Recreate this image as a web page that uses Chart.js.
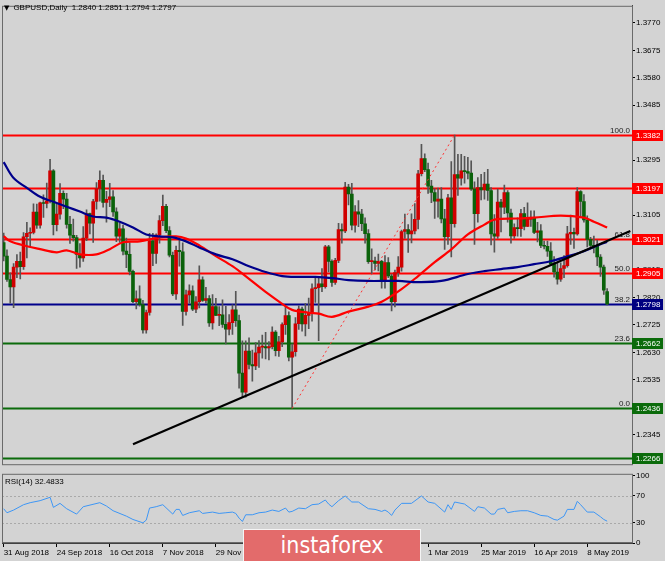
<!DOCTYPE html>
<html>
<head>
<meta charset="utf-8">
<script src="https://cdn.jsdelivr.net/npm/chart.js@4"></script>
<style>
  html, body { margin: 0; padding: 0; background: #d3d3d3; }
  #wrap { position: relative; width: 665px; height: 561px; overflow: hidden; background: #d3d3d3; font-family: "Liberation Sans", Arial, sans-serif; }
  #main { position: absolute; left: 0; top: 0; }
  #rsi { position: absolute; left: 0; top: 470px; }
  .title { position: absolute; left: 4px; top: 3px; font-size: 8px; color: #000; white-space: pre; }
  .title .tri { font-family: "DejaVu Sans"; font-size: 7px; margin-right: 4px; }
  .rsiTitle { position: absolute; left: 5px; top: 477px; font-size: 8px; color: #000; white-space: pre; }
  .brand { position: absolute; left: 243px; top: 529px; width: 178px; height: 32px; box-sizing: border-box;
           background: #e36b6b; border: 1px solid #f4f4f4; border-bottom: none; color: #fff;
           font-family: "Liberation Sans Narrow", "DejaVu Sans Condensed", sans-serif; font-size: 23px;
           text-align: center; line-height: 30px; }
</style>
</head>
<body>
<div id="wrap">
  <canvas id="main" width="665" height="470"></canvas>
  <canvas id="rsi" width="665" height="91"></canvas>
  <div class="title" id="title"></div>
  <div class="rsiTitle" id="rsiTitle"></div>
  <div class="brand">instaforex</div>
</div>
<script>
// GBPUSD daily, 31 Aug 2018 .. 16 May 2019
const opens = [
  1.3010, 1.2963, 1.2882, 1.2856, 1.2925, 1.2945, 1.2926, 1.3030, 1.3042, 1.3045,
  1.3115, 1.3070, 1.3147, 1.3145, 1.3154, 1.3258, 1.3072, 1.3108, 1.3180, 1.3160,
  1.3073, 1.3035, 1.3027, 1.2969, 1.2957, 1.3025, 1.3110, 1.3077, 1.3152, 1.3197,
  1.3225, 1.3149, 1.3159, 1.3168, 1.3116, 1.3032, 1.3057, 1.2980, 1.2969, 1.2910,
  1.2805, 1.2815, 1.2795, 1.2708, 1.2768, 1.3016, 1.2972, 1.3036, 1.3086, 1.3135,
  1.3051, 1.2966, 1.2832, 1.2983, 1.2978, 1.2772, 1.2829, 1.2843, 1.2779, 1.2805,
  1.2881, 1.2810, 1.2816, 1.2732, 1.2788, 1.2758, 1.2760, 1.2727, 1.2710, 1.2733,
  1.2777, 1.2740, 1.2558, 1.2492, 1.2634, 1.2588, 1.2583, 1.2628, 1.2648, 1.2650,
  1.2645, 1.2650, 1.2700, 1.2636, 1.2666, 1.2726, 1.2757, 1.2613, 1.2632, 1.2729,
  1.2780, 1.2728, 1.2758, 1.2766, 1.2850, 1.2854, 1.2867, 1.2857, 1.2995, 1.2945,
  1.2872, 1.2948, 1.3055, 1.3050, 1.3202, 1.3178, 1.3070, 1.3116, 1.3108, 1.3075,
  1.3041, 1.2944, 1.2946, 1.2938, 1.2945, 1.2877, 1.2941, 1.2894, 1.2805, 1.2906,
  1.2925, 1.3048, 1.3055, 1.3040, 1.3050, 1.3090, 1.3248, 1.3300, 1.3262, 1.3205,
  1.3183, 1.3153, 1.3160, 1.3092, 1.3030, 1.3165, 1.3075, 1.3245, 1.3233, 1.3258,
  1.3255, 1.3250, 1.3195, 1.3110, 1.3200, 1.3192, 1.3212, 1.3190, 1.3040, 1.3032,
  1.3150, 1.3132, 1.3183, 1.3112, 1.3033, 1.3062, 1.3058, 1.3110, 1.3066, 1.3090,
  1.3095, 1.3045, 1.3050, 1.3000, 1.2997, 1.2980, 1.2935, 1.2908, 1.2883, 1.2920,
  1.2930, 1.3040, 1.3045, 1.3040, 1.3186, 1.3152, 1.3088, 1.3021, 1.3000, 1.2997,
  1.2960, 1.2925, 1.2840
];
const highs = [
  1.3043, 1.2985, 1.2905, 1.2937, 1.2968, 1.2977, 1.3044, 1.3080, 1.3061, 1.3144,
  1.3143, 1.3150, 1.3175, 1.3216, 1.3298, 1.3262, 1.3143, 1.3214, 1.3189, 1.3180,
  1.3101, 1.3091, 1.3035, 1.3006, 1.3065, 1.3123, 1.3112, 1.3159, 1.3217, 1.3258,
  1.3243, 1.3187, 1.3215, 1.3190, 1.3130, 1.3078, 1.3070, 1.3025, 1.3010, 1.2915,
  1.2843, 1.2860, 1.2810, 1.2776, 1.3042, 1.3042, 1.3040, 1.3103, 1.3174, 1.3142,
  1.3065, 1.2977, 1.2998, 1.3027, 1.3009, 1.2845, 1.2864, 1.2860, 1.2823, 1.2929,
  1.2891, 1.2855, 1.2826, 1.2830, 1.2817, 1.2788, 1.2812, 1.2789, 1.2761, 1.2794,
  1.2841, 1.2759, 1.2670, 1.2670, 1.2680, 1.2638, 1.2664, 1.2671, 1.2690, 1.2699,
  1.2667, 1.2718, 1.2705, 1.2685, 1.2732, 1.2790, 1.2770, 1.2659, 1.2750, 1.2791,
  1.2787, 1.2800, 1.2818, 1.2867, 1.2890, 1.2893, 1.2920, 1.3000, 1.3000, 1.2950,
  1.2955, 1.3076, 1.3075, 1.3218, 1.3211, 1.3215, 1.3138, 1.3155, 1.3125, 1.3095,
  1.3055, 1.2988, 1.2960, 1.2970, 1.2948, 1.2965, 1.2958, 1.2901, 1.2915, 1.2961,
  1.3053, 1.3108, 1.3072, 1.3109, 1.3145, 1.3260, 1.3350, 1.3317, 1.3285, 1.3225,
  1.3197, 1.3198, 1.3200, 1.3125, 1.3177, 1.3290, 1.3382, 1.3315, 1.3315, 1.3308,
  1.3305, 1.3293, 1.3220, 1.3235, 1.3246, 1.3253, 1.3263, 1.3200, 1.3107, 1.3195,
  1.3159, 1.3209, 1.3190, 1.3126, 1.3075, 1.3095, 1.3125, 1.3132, 1.3147, 1.3120,
  1.3120, 1.3080, 1.3072, 1.3015, 1.3015, 1.3010, 1.2961, 1.2940, 1.2940, 1.2965,
  1.3066, 1.3105, 1.3060, 1.3200, 1.3190, 1.3176, 1.3102, 1.3028, 1.3032, 1.3018,
  1.2968, 1.2932, 1.2851
];
const lows = [
  1.2946, 1.2875, 1.2800, 1.2785, 1.2888, 1.2884, 1.2917, 1.2957, 1.2996, 1.3040,
  1.3059, 1.3060, 1.3097, 1.3130, 1.3147, 1.3036, 1.3050, 1.3091, 1.3127, 1.3060,
  1.3007, 1.3015, 1.2920, 1.2925, 1.2945, 1.3016, 1.3040, 1.3010, 1.3125, 1.3153,
  1.3132, 1.3080, 1.3134, 1.3100, 1.3013, 1.3010, 1.2967, 1.2923, 1.2898, 1.2802,
  1.2780, 1.2790, 1.2696, 1.2696, 1.2759, 1.2930, 1.2938, 1.3008, 1.3068, 1.3044,
  1.2960, 1.2826, 1.2813, 1.2928, 1.2723, 1.2759, 1.2800, 1.2774, 1.2767, 1.2784,
  1.2806, 1.2800, 1.2720, 1.2710, 1.2757, 1.2722, 1.2716, 1.2659, 1.2690, 1.2692,
  1.2720, 1.2506, 1.2477, 1.2475, 1.2573, 1.2530, 1.2570, 1.2578, 1.2610, 1.2607,
  1.2604, 1.2642, 1.2618, 1.2616, 1.2650, 1.2692, 1.2600, 1.2438, 1.2617, 1.2709,
  1.2703, 1.2687, 1.2712, 1.2738, 1.2803, 1.2670, 1.2840, 1.2852, 1.2908, 1.2858,
  1.2865, 1.2940, 1.3008, 1.3044, 1.3140, 1.3054, 1.3046, 1.3065, 1.3051, 1.3008,
  1.2938, 1.2902, 1.2915, 1.2912, 1.2852, 1.2852, 1.2888, 1.2773, 1.2787, 1.2893,
  1.2911, 1.3024, 1.2976, 1.3009, 1.3040, 1.3057, 1.3240, 1.3255, 1.3180, 1.3148,
  1.3093, 1.3098, 1.3078, 1.2986, 1.3003, 1.2960, 1.3063, 1.3173, 1.3208, 1.3215,
  1.3230, 1.3190, 1.3003, 1.3080, 1.3157, 1.3160, 1.3156, 1.3002, 1.2977, 1.3024,
  1.3047, 1.3110, 1.3080, 1.3008, 1.3024, 1.3032, 1.3031, 1.3054, 1.3065, 1.3066,
  1.3041, 1.3012, 1.2992, 1.2988, 1.2962, 1.2932, 1.2890, 1.2866, 1.2875, 1.2888,
  1.2925, 1.3003, 1.2990, 1.3035, 1.3100, 1.3080, 1.2995, 1.2994, 1.2974, 1.2930,
  1.2893, 1.2830, 1.2794
];
const closes = [
  1.2963, 1.2882, 1.2856, 1.2925, 1.2945, 1.2926, 1.3030, 1.3042, 1.3045, 1.3115,
  1.3070, 1.3147, 1.3145, 1.3154, 1.3258, 1.3072, 1.3108, 1.3180, 1.3160, 1.3073,
  1.3035, 1.3027, 1.2969, 1.2957, 1.3025, 1.3110, 1.3077, 1.3152, 1.3197, 1.3225,
  1.3149, 1.3159, 1.3168, 1.3116, 1.3032, 1.3057, 1.2980, 1.2969, 1.2910, 1.2805,
  1.2815, 1.2795, 1.2708, 1.2768, 1.3016, 1.2972, 1.3036, 1.3086, 1.3135, 1.3051,
  1.2966, 1.2832, 1.2983, 1.2978, 1.2772, 1.2829, 1.2843, 1.2779, 1.2805, 1.2881,
  1.2810, 1.2816, 1.2732, 1.2788, 1.2758, 1.2760, 1.2727, 1.2710, 1.2733, 1.2777,
  1.2740, 1.2558, 1.2492, 1.2634, 1.2588, 1.2583, 1.2628, 1.2648, 1.2650, 1.2645,
  1.2650, 1.2700, 1.2636, 1.2666, 1.2726, 1.2757, 1.2613, 1.2632, 1.2729, 1.2780,
  1.2728, 1.2758, 1.2766, 1.2850, 1.2854, 1.2867, 1.2857, 1.2995, 1.2945, 1.2872,
  1.2948, 1.3055, 1.3050, 1.3202, 1.3178, 1.3070, 1.3116, 1.3108, 1.3075, 1.3041,
  1.2944, 1.2946, 1.2938, 1.2945, 1.2877, 1.2941, 1.2894, 1.2805, 1.2906, 1.2925,
  1.3048, 1.3055, 1.3040, 1.3050, 1.3090, 1.3248, 1.3300, 1.3262, 1.3205, 1.3183,
  1.3153, 1.3160, 1.3092, 1.3030, 1.3165, 1.3075, 1.3245, 1.3233, 1.3258, 1.3255,
  1.3250, 1.3195, 1.3110, 1.3200, 1.3192, 1.3212, 1.3190, 1.3040, 1.3032, 1.3150,
  1.3132, 1.3183, 1.3112, 1.3033, 1.3062, 1.3058, 1.3110, 1.3066, 1.3090, 1.3095,
  1.3045, 1.3050, 1.3000, 1.2997, 1.2980, 1.2935, 1.2908, 1.2883, 1.2920, 1.2930,
  1.3040, 1.3045, 1.3040, 1.3186, 1.3152, 1.3088, 1.3021, 1.3000, 1.2997, 1.2960,
  1.2925, 1.2845, 1.2797
];

// moving averages, sampled along the curves (bar index -> price)
const redMaIdx = [0, 2, 7, 11, 16, 19, 23, 28, 32, 36, 41, 47, 52, 55, 59, 64, 69, 74, 79, 84,
  87, 92, 95, 99, 104, 110, 114, 120, 125, 130, 135, 140, 145, 148, 155, 160, 168, 175, 178, 182];
const redMaVal = [1.3032, 1.3014, 1.2997, 1.2987, 1.2976, 1.2983, 1.2969, 1.2969, 1.2987, 1.3011,
  1.3014, 1.3028, 1.3031, 1.3024, 1.3000, 1.2963, 1.2928, 1.2884, 1.2839, 1.2798,
  1.2777, 1.2767, 1.2764, 1.2753, 1.2771, 1.2788, 1.2805, 1.2849, 1.2894, 1.2942,
  1.2986, 1.3038, 1.3072, 1.3089, 1.3093, 1.3096, 1.3103, 1.3096, 1.3082, 1.3062];
const blueMaIdx = [0, 3, 7, 11, 15, 19, 23, 27, 31, 35, 39, 43, 47, 51, 55, 59, 64, 69, 74, 79,
  84, 89, 94, 99, 104, 110, 119, 125, 132, 140, 145, 150, 155, 160, 165, 170, 175, 180, 182];
const blueMaVal = [1.3288, 1.3233, 1.3199, 1.3168, 1.3151, 1.3134, 1.3117, 1.3100, 1.3096, 1.3082,
  1.3062, 1.3038, 1.3031, 1.3028, 1.3014, 1.2993, 1.2969, 1.2952, 1.2928, 1.2908,
  1.2894, 1.2891, 1.2891, 1.2887, 1.2880, 1.2877, 1.2877, 1.2873, 1.2877, 1.2901,
  1.2911, 1.2918, 1.2925, 1.2935, 1.2945, 1.2962, 1.2980, 1.3004, 1.3012];

// drawn objects
const trendIdx = [39, 189];
const trendVal = [1.2312, 1.3050];
const fibLineIdx = [87, 136];
const fibLineVal = [1.2436, 1.3382];
const levelPrices = [1.3382, 1.3197, 1.3021, 1.2905, 1.2798, 1.2662, 1.2436, 1.2266];
const levelColors = ['#ff0000', '#ff0000', '#ff0000', '#ff0000', '#00008b', '#0b6b0b', '#0b6b0b', '#0b6b0b'];
const levelBoxColors = ['#ff0000', '#ff0000', '#ff0000', '#ff0000', '#000080', '#0b6b0b', '#0b6b0b', '#0b6b0b'];
const fibPrices = [1.3382, 1.3021, 1.2905, 1.2798, 1.2662, 1.2436];
const fibTexts = ['100.0', '61.8', '50.0', '38.2', '23.6', '0.0'];

// RSI(14), sampled (bar index -> value)
const rsiIdx = [0, 1, 3, 6, 8, 11, 14, 15, 17, 19, 22, 24, 29, 31, 33, 37, 39, 42, 43, 44,
  46, 48, 51, 52, 53, 54, 56, 59, 60, 63, 65, 67, 69, 70, 71, 72, 73, 75, 77, 79,
  81, 83, 85, 86, 87, 89, 91, 93, 95, 97, 98, 99, 101, 103, 105, 107, 110, 112, 114, 115,
  116, 117, 118, 120, 123, 126, 128, 130, 133, 134, 135, 136, 139, 142, 143, 145, 147, 148, 149, 151,
  152, 154, 156, 158, 160, 162, 164, 166, 167, 169, 170, 172, 173, 174, 176, 178, 180, 181, 182];
const rsiVal = [51, 45, 49, 57, 60, 63, 68, 53, 59, 51, 43, 54, 60, 55, 48, 40, 35, 30, 34, 52,
  54, 57, 43, 50, 50, 41, 45, 48, 44, 46, 44, 45, 46, 44, 37, 32, 42, 42, 45, 46,
  49, 47, 52, 46, 47, 52, 51, 57, 58, 64, 58, 54, 63, 70, 61, 61, 51, 50, 47, 49,
  46, 41, 49, 59, 59, 70, 61, 59, 46, 57, 50, 61, 58, 47, 54, 52, 43, 43, 50, 52,
  45, 47, 48, 48, 45, 41, 40, 35, 34, 40, 50, 50, 62, 57, 46, 46, 39, 35, 32.4833];

// axis ticks
const priceTicks = [1.3770, 1.3675, 1.3580, 1.3485, 1.3390, 1.3295, 1.3200, 1.3105, 1.3010,
  1.2915, 1.2820, 1.2725, 1.2630, 1.2535, 1.2440, 1.2345, 1.2250];
const rsiTicks = [0, 30, 70, 100];
const rsiLevels = [70, 30];
const dateTicks = ['31 Aug 2018', '24 Sep 2018', '16 Oct 2018', '7 Nov 2018', '29 Nov 2018', '21 Dec 2018',
  '16 Jan 2019', '7 Feb 2019', '1 Mar 2019', '25 Mar 2019', '16 Apr 2019', '8 May 2019'];
const DATE_STEP = 16;

const N_SLOTS = 190;   // candles + empty shift on the right
const Y_MIN = 1.2243, Y_MAX = 1.3829;
const BULL = '#d00000', BEAR = '#0a620a';
const FONT = 'Liberation Sans';

const slotLabels = Array.from({ length: N_SLOTS }, (_, i) => String(i));

function sparse(idx, vals) {
  const a = new Array(N_SLOTS).fill(null);
  idx.forEach((k, j) => { a[k] = vals[j]; });
  return a;
}

const last = closes.length - 1;
document.getElementById('title').innerHTML = '<span class="tri">\u25BC</span>GBPUSD,Daily  ' +
  [opens[last], highs[last], lows[last], closes[last]].map(v => v.toFixed(4)).join(' ');
document.getElementById('rsiTitle').textContent = 'RSI(14) ' + rsiVal[rsiVal.length - 1].toFixed(4);

// horizontal levels + fib labels
const levelsPlugin = {
  id: 'levels',
  beforeDatasetsDraw(chart) {
    const { ctx, chartArea: a } = chart;
    const y = chart.scales.y;
    ctx.save();
    levelPrices.forEach((p, k) => {
      const py = Math.round(y.getPixelForValue(p)) + 0.5;
      ctx.strokeStyle = levelColors[k];
      ctx.lineWidth = 2;
      ctx.beginPath();
      ctx.moveTo(a.left, py);
      ctx.lineTo(a.right, py);
      ctx.stroke();
    });
    ctx.fillStyle = '#222';
    ctx.font = '8px "' + FONT + '"';
    ctx.textAlign = 'right';
    ctx.textBaseline = 'alphabetic';
    fibPrices.forEach((p, k) => {
      ctx.fillText(fibTexts[k], a.right - 2, y.getPixelForValue(p) - 2);
    });
    ctx.restore();
  },
  afterDraw(chart) {
    const { ctx, chartArea: a } = chart;
    const y = chart.scales.y;
    ctx.save();
    // frame
    ctx.strokeStyle = '#6a6a6a';
    ctx.lineWidth = 1;
    ctx.strokeRect(a.left + 0.5, a.top + 0.5, a.right - a.left, a.bottom - a.top);
    // price labels of the levels on the axis
    ctx.font = '8px "' + FONT + '"';
    ctx.textAlign = 'left';
    ctx.textBaseline = 'middle';
    levelPrices.forEach((p, k) => {
      const py = Math.round(y.getPixelForValue(p));
      ctx.fillStyle = levelBoxColors[k];
      ctx.fillRect(a.right, py - 5, 31, 11);
      ctx.fillStyle = '#fff';
      ctx.fillText(p.toFixed(4), a.right + 4, py + 0.5);
    });
    ctx.restore();
  }
};

new Chart(document.getElementById('main'), {
  type: 'bar',
  data: {
    labels: slotLabels,
    datasets: [
      { type: 'bar', data: highs.map((h, i) => [lows[i], h]), backgroundColor: '#555555',
        barThickness: 1, grouped: false, order: 6 },
      { type: 'bar', data: opens.map((o, i) => [o, closes[i]]),
        backgroundColor: opens.map((o, i) => closes[i] >= o ? BULL : BEAR),
        borderColor: '#333333', borderWidth: 0, barThickness: 3, minBarLength: 1, grouped: false, order: 5 },
      { type: 'line', data: sparse(redMaIdx, redMaVal), borderColor: '#ff0000', borderWidth: 2.2,
        pointRadius: 0, spanGaps: true, tension: 0.35, order: 3 },
      { type: 'line', data: sparse(blueMaIdx, blueMaVal), borderColor: '#00008b', borderWidth: 2.2,
        pointRadius: 0, spanGaps: true, tension: 0.35, order: 2 },
      { type: 'line', data: sparse(fibLineIdx, fibLineVal), borderColor: '#ff3030', borderWidth: 1,
        borderDash: [2, 3], pointRadius: 0, spanGaps: true, order: 1 },
      { type: 'line', data: sparse(trendIdx, trendVal), borderColor: '#000000', borderWidth: 2.2,
        pointRadius: 0, spanGaps: true, order: 0 }
    ]
  },
  options: {
    responsive: false,
    animation: false,
    devicePixelRatio: 1,
    layout: { padding: { left: 2, top: 3, right: 0, bottom: 1 } },
    plugins: { legend: { display: false }, tooltip: { enabled: false } },
    scales: {
      x: { display: false, offset: true },
      y: {
        position: 'right', min: Y_MIN, max: Y_MAX,
        afterBuildTicks: s => { s.ticks = priceTicks.map(v => ({ value: v })); },
        afterFit: s => { s.width = 33; },
        ticks: { color: '#000', font: { family: FONT, size: 8 }, padding: 1, autoSkip: false,
                 callback: v => Number(v).toFixed(4) },
        grid: { drawOnChartArea: false, tickLength: 3, color: '#000' },
        border: { color: '#404040', width: 1 }
      }
    }
  },
  plugins: [levelsPlugin]
});

// RSI panel
const rsiPlugin = {
  id: 'rsiLevels',
  beforeDatasetsDraw(chart) {
    const { ctx, chartArea: a } = chart;
    const y = chart.scales.y;
    ctx.save();
    ctx.strokeStyle = '#a9a9a9';
    ctx.lineWidth = 1;
    ctx.setLineDash([2, 2]);
    rsiLevels.forEach(v => {
      const py = Math.round(y.getPixelForValue(v)) + 0.5;
      ctx.beginPath();
      ctx.moveTo(a.left, py);
      ctx.lineTo(a.right, py);
      ctx.stroke();
    });
    ctx.restore();
  },
  afterDraw(chart) {
    const { ctx, chartArea: a } = chart;
    ctx.save();
    ctx.strokeStyle = '#6a6a6a';
    ctx.lineWidth = 1;
    ctx.strokeRect(a.left + 0.5, a.top - 1.5, a.right - a.left, a.bottom - a.top + 1);
    ctx.restore();
  }
};

new Chart(document.getElementById('rsi'), {
  type: 'line',
  data: {
    labels: slotLabels,
    datasets: [
      { data: sparse(rsiIdx, rsiVal), borderColor: '#3d96f5', borderWidth: 1,
        pointRadius: 0, spanGaps: true, tension: 0 }
    ]
  },
  options: {
    responsive: false,
    animation: false,
    devicePixelRatio: 1,
    layout: { padding: { left: 2, top: 3, right: 0, bottom: 0 } },
    plugins: { legend: { display: false }, tooltip: { enabled: false } },
    scales: {
      x: {
        offset: true,
        afterBuildTicks: s => { s.ticks = s.ticks.filter(t => t.value % DATE_STEP === 0); },
        afterFit: s => { s.height = 18; },
        ticks: { autoSkip: false, maxRotation: 0, align: 'start', padding: 1, color: '#000',
                 font: { family: FONT, size: 8 },
                 callback: v => dateTicks[v / DATE_STEP] || '' },
        grid: { drawOnChartArea: false, offset: false, tickLength: 4, color: '#000' },
        border: { color: '#404040' }
      },
      y: {
        position: 'right', min: 0, max: 100,
        afterBuildTicks: s => { s.ticks = rsiTicks.map(v => ({ value: v })); },
        afterFit: s => { s.width = 33; },
        ticks: { color: '#000', font: { family: FONT, size: 8 }, padding: 1, autoSkip: false },
        grid: { drawOnChartArea: false, tickLength: 3, color: '#000' },
        border: { color: '#404040' }
      }
    }
  },
  plugins: [rsiPlugin]
});
</script>
</body>
</html>
